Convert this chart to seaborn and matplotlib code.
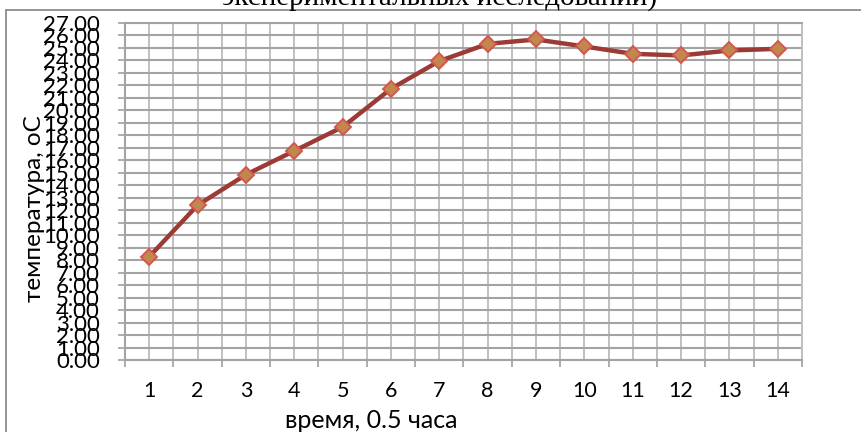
import numpy as np
import pandas as pd
import matplotlib
matplotlib.use("Agg")
import matplotlib.pyplot as plt
from matplotlib.lines import Line2D
import seaborn as sns

# ---- data ----
time_steps = list(range(1, 15))
temperature = [8.27, 12.4, 14.85, 16.75, 18.67, 21.73, 23.95, 25.33,
               25.68, 25.12, 24.53, 24.4, 24.8, 24.93]
y_ticks = list(range(0, 28))
title_text = "экспериментальных исследований)"
x_label = "время, 0.5 часа"
y_label = "температура, оС"

sns.set_theme(style="white")
plt.rcParams['font.family'] = ['Lato', 'DejaVu Sans']

W, H = 861, 432
fig = plt.figure(figsize=(W / 100, H / 100), dpi=100)
ax = fig.add_axes([125 / W, 1 - 360 / H, 677 / W, 337 / H])

df = pd.DataFrame({"t": time_steps, "temp": temperature})
sns.lineplot(data=df, x="t", y="temp", ax=ax, color="#9C3B36", linewidth=3.2,
             marker="D", markersize=8.5, markerfacecolor="#C2874F",
             markeredgecolor="#D2574D", markeredgewidth=1.4, zorder=5)

ax.set_xlim(0.5, 14.5)
ax.set_ylim(0, 27)

# x: major ticks at category boundaries, labels at centers
ax.set_xticks(np.arange(0.5, 15.0, 1.0))
ax.set_xticklabels([])
ax.set_xticks(time_steps, minor=True)
ax.set_xticklabels([str(t) for t in time_steps], minor=True)
ax.tick_params(axis="x", which="major", length=5, width=1.2, color="#A0A0A0",
               direction="out", bottom=True)
ax.tick_params(axis="x", which="minor", length=0, pad=15, labelsize=15.5,
               labelcolor="black", bottom=True)

ax.set_yticks(y_ticks)
ax.set_yticklabels([f"{v:.2f}" for v in y_ticks])
ax.tick_params(axis="y", which="major", length=5, width=1.2, color="#A0A0A0",
               direction="out", pad=13, labelsize=16, labelcolor="black", left=True)

ax.grid(True, axis="x", which="both", color="#C0C0C0", linewidth=1.4)
ax.grid(True, axis="y", which="major", color="#A3A3A3", linewidth=1.5)
ax.set_axisbelow(True)

for side in ["left", "bottom", "top"]:
    ax.spines[side].set_color("#A3A3A3")
    ax.spines[side].set_linewidth(1.5)
ax.spines["right"].set_color("#C0C0C0")
ax.spines["right"].set_linewidth(1.4)

ax.set_xlabel("")
ax.set_ylabel("")

fig.text(371 / W, 1 - 427.5 / H, x_label, ha="center", va="baseline",
         fontsize=18, color="black")
fig.text(35 / W, 1 - 209 / H, y_label, ha="center", va="center",
         rotation=90, fontsize=17.5, color="black")
fig.text(440 / W, 1 - 5 / H, title_text, ha="center", va="baseline",
         fontsize=21, family=["Liberation Serif", "DejaVu Serif"], color="black")

# chart border (clipped by image on right and bottom)
fig.add_artist(Line2D([6 / W, 6 / W], [1 - 10 / H, -0.05], transform=fig.transFigure,
                      color="#8C8C8C", linewidth=1.3))
fig.add_artist(Line2D([6 / W, 1.05], [1 - 10 / H, 1 - 10 / H], transform=fig.transFigure,
                      color="#8C8C8C", linewidth=1.3))

fig.savefig("out.png", dpi=100)
